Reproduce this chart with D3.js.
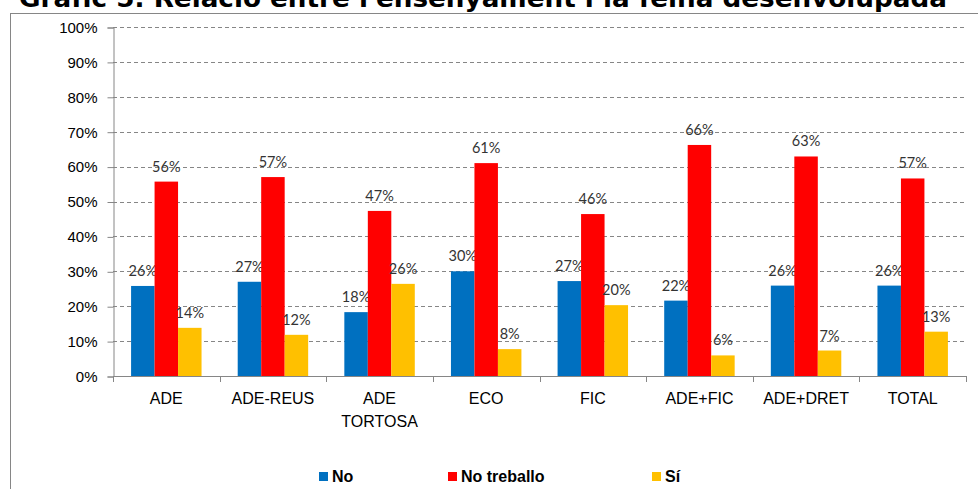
<!DOCTYPE html>
<html lang="ca">
<head>
  <meta charset="UTF-8">
  <title>Gràfic 5</title>
  <script src="https://d3js.org/d3.v7.min.js"></script>
  <style>
    body { margin: 0; background: #fff; }
    svg { display: block; }
  </style>
</head>
<body>
  <svg width="978" height="489"></svg>
  <script>
    // Data
    const categories = ["ADE", "ADE-REUS", "ADE TORTOSA", "ECO", "FIC", "ADE+FIC", "ADE+DRET", "TOTAL"];
    const seriesNames = ["No", "No treballo", "Sí"];
    const valuesNo = [25.8, 27.0, 18.3, 30.0, 27.2, 21.6, 25.9, 25.9];
    const valuesNoTreballo = [55.7, 57.0, 47.3, 61.0, 46.4, 66.2, 62.9, 56.6];
    const valuesSi = [13.8, 11.8, 26.4, 7.7, 20.3, 5.9, 7.3, 12.7];
    const yTicks = [0, 10, 20, 30, 40, 50, 60, 70, 80, 90, 100];

    const colors = ["#0070C0", "#FF0000", "#FFC000"];
    const series = [valuesNo, valuesNoTreballo, valuesSi];

    const svg = d3.select("svg");

    // outer frame
    svg.append("rect")
       .attr("x", 10.5).attr("y", 13.5)
       .attr("width", 1000).attr("height", 500)
       .attr("fill", "none").attr("stroke", "#868686");

    // title (cropped at top in the original)
    svg.append("text")
       .attr("x", 483).attr("y", 7)
       .attr("text-anchor", "middle")
       .attr("textLength", 928)
       .attr("lengthAdjust", "spacingAndGlyphs")
       .style("font-family", "'DejaVu Sans', Verdana, sans-serif")
       .style("font-weight", "bold")
       .style("font-size", "25px")
       .attr("fill", "#000")
       .text("Gràfic 5. Relació entre l'ensenyament i la feina desenvolupada");

    const plotLeft = 113, plotRight = 966, plotTop = 27, plotBottom = 376;

    const x = d3.scaleBand().domain(categories).range([plotLeft, plotRight]).paddingInner(0).paddingOuter(0);
    const xInner = d3.scaleBand().domain(seriesNames).range([0, x.bandwidth()]).paddingInner(0).paddingOuter(0.77);
    const y = d3.scaleLinear().domain([0, 100]).range([plotBottom, plotTop]);

    // gridlines
    svg.append("g")
       .selectAll("line")
       .data(yTicks.filter(d => d > 0))
       .join("line")
       .attr("x1", plotLeft).attr("x2", plotRight)
       .attr("y1", d => Math.round(y(d)) + 0.5).attr("y2", d => Math.round(y(d)) + 0.5)
       .attr("stroke", "#868686")
       .attr("stroke-dasharray", "4,3");

    // y axis
    const yAxis = svg.append("g")
       .attr("transform", `translate(${plotLeft + 0.5},0.5)`)
       .call(d3.axisLeft(y).tickValues(yTicks).tickSize(6).tickPadding(10).tickFormat(d => d + "%"));
    yAxis.select(".domain").attr("stroke", "#868686");
    yAxis.selectAll(".tick line").attr("stroke", "#868686");
    yAxis.selectAll("text")
         .style("font-family", "Arial, 'Liberation Sans', sans-serif")
         .style("font-size", "15px")
         .attr("fill", "#000");

    // bars
    const groups = svg.append("g")
       .selectAll("g")
       .data(categories)
       .join("g")
       .attr("transform", d => `translate(${x(d)},0)`);

    groups.each(function(cat, ci) {
      const g = d3.select(this);
      seriesNames.forEach((s, si) => {
        const v = series[si][ci];
        g.append("rect")
         .attr("x", xInner(s))
         .attr("width", xInner.bandwidth())
         .attr("y", y(v))
         .attr("height", y(0) - y(v))
         .attr("fill", colors[si]);
        g.append("text")
         .attr("x", xInner(s) + xInner.bandwidth() / 2)
         .attr("y", y(v) - 10)
         .attr("text-anchor", "middle")
         .style("font-family", "Lato, Carlito, Calibri, sans-serif")
         .style("font-size", "14.5px")
         .attr("fill", "#333")
         .text(Math.round(v) + "%");
      });
    });

    // x axis
    svg.append("line")
       .attr("x1", plotLeft).attr("x2", plotRight)
       .attr("y1", plotBottom + 0.5).attr("y2", plotBottom + 0.5)
       .attr("stroke", "#868686");
    svg.append("g")
       .selectAll("line")
       .data(categories.concat(["_end"]))
       .join("line")
       .attr("x1", (d, i) => Math.round(plotLeft + i * x.step()) + 0.5)
       .attr("x2", (d, i) => Math.round(plotLeft + i * x.step()) + 0.5)
       .attr("y1", plotBottom).attr("y2", plotBottom + 6)
       .attr("stroke", "#868686");

    const xLabels = svg.append("g")
       .selectAll("text")
       .data(categories)
       .join("text")
       .attr("x", d => x(d) + x.bandwidth() / 2)
       .attr("y", 404)
       .attr("text-anchor", "middle")
       .style("font-family", "Arial, 'Liberation Sans', sans-serif")
       .style("font-size", "16px")
       .attr("fill", "#000");
    xLabels.each(function(d) {
      const parts = d === "ADE TORTOSA" ? ["ADE", "TORTOSA"] : [d];
      d3.select(this).selectAll("tspan")
        .data(parts)
        .join("tspan")
        .attr("x", x(d) + x.bandwidth() / 2)
        .attr("dy", (p, i) => i === 0 ? 0 : 23)
        .text(p => p);
    });

    // legend
    const legendX = [319, 448, 652];
    const legend = svg.append("g");
    seriesNames.forEach((s, i) => {
      legend.append("rect")
            .attr("x", legendX[i]).attr("y", 472)
            .attr("width", 9).attr("height", 9)
            .attr("fill", colors[i]);
      legend.append("text")
            .attr("x", legendX[i] + 13).attr("y", 482)
            .style("font-family", "Arial, 'Liberation Sans', sans-serif")
            .style("font-weight", "bold")
            .style("font-size", "16px")
            .attr("fill", "#000")
            .text(s);
    });
  </script>
</body>
</html>
